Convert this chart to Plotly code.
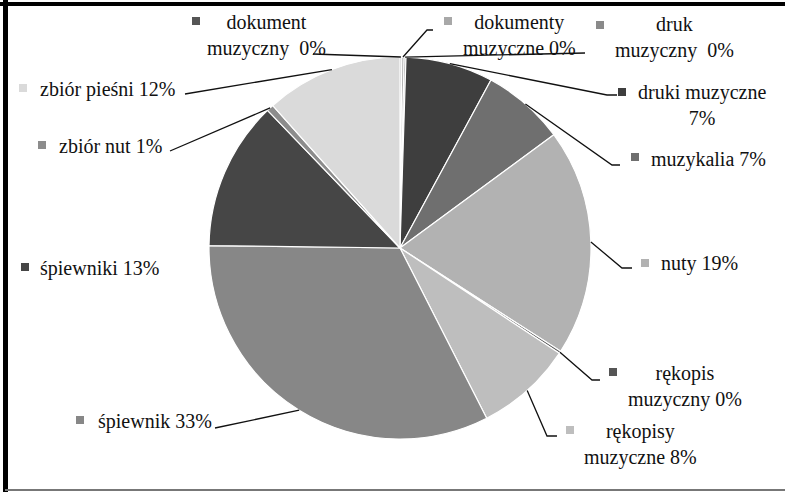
import math
import plotly.graph_objects as go

W, H = 785, 492

# ---- data ----
categories = ["dokument muzyczny", "dokumenty muzyczne", "druk muzyczny", "druki muzyczne",
              "muzykalia", "nuty", "rękopis muzyczny", "rękopisy muzyczne",
              "śpiewnik", "śpiewniki", "zbiór nut", "zbiór pieśni"]
values = [0.15, 0.2, 0.15, 7.4, 7.0, 19.2, 0.2, 8.2, 32.7, 12.6, 0.6, 11.6]
label_texts = ["dokument<br>muzyczny  0%", "dokumenty<br>muzyczne 0%", "druk<br>muzyczny  0%",
               "druki muzyczne<br>7%", "muzykalia 7%", "nuty 19%", "rękopis<br>muzyczny 0%",
               "rękopisy<br>muzyczne 8%", "śpiewnik 33%", "śpiewniki 13%", "zbiór nut 1%",
               "zbiór pieśni 12%"]

# ---- styling ----
colors = ["#555555", "#a8a8a8", "#8a8a8a", "#3e3e3e", "#6f6f6f", "#b2b2b2",
          "#555555", "#bebebe", "#878787", "#464646", "#8c8c8c", "#dadada"]
CX, CY, R = 400, 248, 191
FONT = "Liberation Serif, Tinos, Times New Roman, DejaVu Serif, serif"

# label layout (pixel): text center, marker center, leader points after the anchor
text_pos = [(266, 36), (519, 36), (674, 37), (702, 105), (708, 159), (699, 263),
            (685, 386), (640, 444), (155, 421), (99, 268), (110, 146), (108, 89)]
marker_pos = [(196, 21), (448, 21), (600, 25), (622, 92), (635, 157), (645, 263),
              (613, 372), (570, 430), (80, 420), (25, 267), (42, 145), (23, 88)]
leaders = [[(313, 54)], [(427, 30), (433, 30)], [(585, 53)], [(607, 95), (617, 95)],
           [(612, 165), (620, 165)], [(622, 268), (632, 268)], [(592, 380), (600, 380)],
           [(547, 436), (557, 436)], [(215, 428)], None, [(170, 151)], [(185, 94)]]


def px(x):
    return x / W


def py(y):
    return 1 - y / H


fig = go.Figure(go.Pie(
    labels=categories, values=values, sort=False, direction="clockwise", rotation=0,
    marker=dict(colors=colors, line=dict(color="white", width=1.2)),
    textinfo="none", hoverinfo="label+percent", showlegend=False,
    domain=dict(x=[px(CX - R), px(CX + R)], y=[py(CY + R), py(CY - R)]),
))

shapes = []
annotations = []
total = sum(values)
cum = 0.0
for i, v in enumerate(values):
    theta = 2 * math.pi * (cum + v / 2) / total
    cum += v
    ax, ay = CX + R * math.sin(theta), CY - R * math.cos(theta)
    if leaders[i]:
        pts = [(ax, ay)] + leaders[i]
        path = "M " + " L ".join(f"{px(x):.5f},{py(y):.5f}" for x, y in pts)
        shapes.append(dict(type="path", path=path, xref="paper", yref="paper",
                           line=dict(color="#111111", width=1.3)))
    mx, my = marker_pos[i]
    shapes.append(dict(type="rect", xref="paper", yref="paper",
                       x0=px(mx - 4), x1=px(mx + 4), y0=py(my + 4), y1=py(my - 4),
                       fillcolor=colors[i], line=dict(width=0)))
    tx, ty = text_pos[i]
    annotations.append(dict(text=label_texts[i], x=px(tx), y=py(ty), xref="paper", yref="paper",
                            xanchor="center", yanchor="middle", align="center", showarrow=False,
                            font=dict(family=FONT, size=20, color="#111111")))

# frame
shapes += [
    dict(type="line", xref="paper", yref="paper", x0=0, x1=1, y0=py(4), y1=py(4),
         line=dict(color="black", width=4)),
    dict(type="line", xref="paper", yref="paper", x0=px(5.5), x1=px(5.5), y0=0, y1=1,
         line=dict(color="black", width=5)),
    dict(type="line", xref="paper", yref="paper", x0=px(5), x1=1, y0=py(490), y1=py(490),
         line=dict(color="#777777", width=2)),
]

fig.update_layout(width=W, height=H, margin=dict(l=0, r=0, t=0, b=0),
                  paper_bgcolor="white", plot_bgcolor="white",
                  font=dict(family=FONT, size=20, color="#111111"),
                  shapes=shapes, annotations=annotations)
fig.write_html("out.html", config={"displayModeBar": False},
               post_script="document.body.style.margin='0';document.body.style.overflow='hidden';")
